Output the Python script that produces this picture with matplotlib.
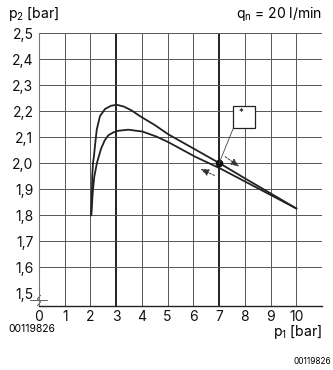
import matplotlib
matplotlib.use('Agg')
import matplotlib.pyplot as plt
from matplotlib.patches import Rectangle

# p1 / p2 characteristic at q_n = 20 l/min
P1_RISING = [2.03, 2.06, 2.07, 2.10, 2.14, 2.18, 2.245, 2.37, 2.57, 2.80, 3.02,
             3.30, 3.60, 3.93, 4.50, 5.03, 6.07, 7.00, 8.00, 9.00, 10.00]
P2_RISING = [1.80, 1.90, 1.95, 2.00, 2.03, 2.07, 2.129, 2.181, 2.209, 2.221, 2.225,
             2.218, 2.203, 2.181, 2.147, 2.111, 2.053, 2.001, 1.942, 1.884, 1.826]

P1_FALLING = [2.03, 2.10, 2.15, 2.25, 2.41, 2.55, 2.70, 2.90, 3.09, 3.47, 4.02,
              4.58, 5.03, 6.07, 7.04, 8.00, 9.00, 10.00]
P2_FALLING = [1.80, 1.90, 1.948, 2.00, 2.055, 2.087, 2.108, 2.119, 2.125, 2.129, 2.122,
              2.102, 2.081, 2.025, 1.980, 1.930, 1.878, 1.826]

OPERATING_POINT = (7.0, 2.0)

X_TICKS = [0, 1, 2, 3, 4, 5, 6, 7, 8, 9, 10]
Y_TICKS = [1.5, 1.6, 1.7, 1.8, 1.9, 2.0, 2.1, 2.2, 2.3, 2.4, 2.5]
Y_LABELS = ['1,5', '1,6', '1,7', '1,8', '1,9', '2,0', '2,1', '2,2', '2,3', '2,4', '2,5']
BOLD_X = [3, 7]
DOC_NO = '00119826'

plt.rcParams['font.family'] = ['Inter', 'Liberation Sans', 'DejaVu Sans']
plt.rcParams['mathtext.default'] = 'regular'

fig = plt.figure(figsize=(3.33, 3.70), dpi=100)
ax = fig.add_axes([0.117, 0.174, 0.850, 0.736])
ax.set_xlim(0, 11)
ax.set_ylim(1.452, 2.5)

# grid: thin grey lines, the 3 and 7 bar lines drawn heavier
for xv in X_TICKS[1:] + [11]:
    if xv in BOLD_X:
        ax.axvline(xv, color='#111111', lw=1.3, zorder=1)
    else:
        ax.axvline(xv, color='#555555', lw=0.7, zorder=1)
for yv in Y_TICKS[1:]:
    ax.axhline(yv, color='#555555', lw=0.7, zorder=1)

for side in ['top', 'right']:
    ax.spines[side].set_visible(False)
ax.spines['left'].set_color('#777777')
ax.spines['left'].set_linewidth(0.8)
ax.spines['bottom'].set_color('#222222')
ax.spines['bottom'].set_linewidth(1.0)

ax.plot(P1_RISING, P2_RISING, color='#222222', lw=1.3, zorder=3)
ax.plot(P1_FALLING, P2_FALLING, color='#222222', lw=1.3, zorder=3)
ax.plot(*OPERATING_POINT, 'o', color='#111111', ms=4.5, zorder=4)

# note box with leader to the operating point
ax.add_patch(Rectangle((7.56, 2.134), 0.85, 0.086, facecolor='white',
                       edgecolor='#222222', lw=0.9, zorder=5))
ax.text(7.85, 2.195, '*', ha='center', va='center', fontsize=7, zorder=6)
ax.plot([7.55, OPERATING_POINT[0]], [2.134, OPERATING_POINT[1]],
        color='#444444', lw=0.6, zorder=4)

arrow = dict(arrowstyle='-|>,head_length=0.5,head_width=0.2', color='#333333',
             lw=0.7, linestyle=(0, (2, 1.5)), shrinkA=0, shrinkB=0)
ax.annotate('', xy=(7.78, 1.987), xytext=(7.24, 2.025), arrowprops=arrow, zorder=5)
ax.annotate('', xy=(6.28, 1.978), xytext=(6.82, 1.953), arrowprops=arrow, zorder=5)

# axis break mark at the origin
ax.plot([-0.35, 0.32], [1.472, 1.472], color='#444444', lw=0.6, clip_on=False)
ax.plot([-0.06, 0.06, -0.06, 0.06], [1.452, 1.466, 1.478, 1.492],
        color='#444444', lw=0.6, clip_on=False)

ax.set_xticks(X_TICKS)
ax.set_xticklabels([str(v) for v in X_TICKS])
ax.set_yticks(Y_TICKS)
ax.set_yticklabels(Y_LABELS)
ax.tick_params(length=0, labelsize=10, colors='#111111')
ax.tick_params(axis='x', pad=3)
ax.tick_params(axis='y', pad=4)

fig.text(0.024, 0.962, 'p$_2$ [bar]', fontsize=10, ha='left', va='center')
fig.text(0.967, 0.962, 'q$_n$ = 20 l/min', fontsize=10, ha='right', va='center')
fig.text(0.967, 0.104, 'p$_1$ [bar]', fontsize=10, ha='right', va='center')
fig.text(0.024, 0.112, DOC_NO, fontsize=7.5, ha='left', va='center')
fig.text(0.993, 0.022, DOC_NO, fontsize=6, ha='right', va='center')

fig.savefig('out.png', dpi=100)
